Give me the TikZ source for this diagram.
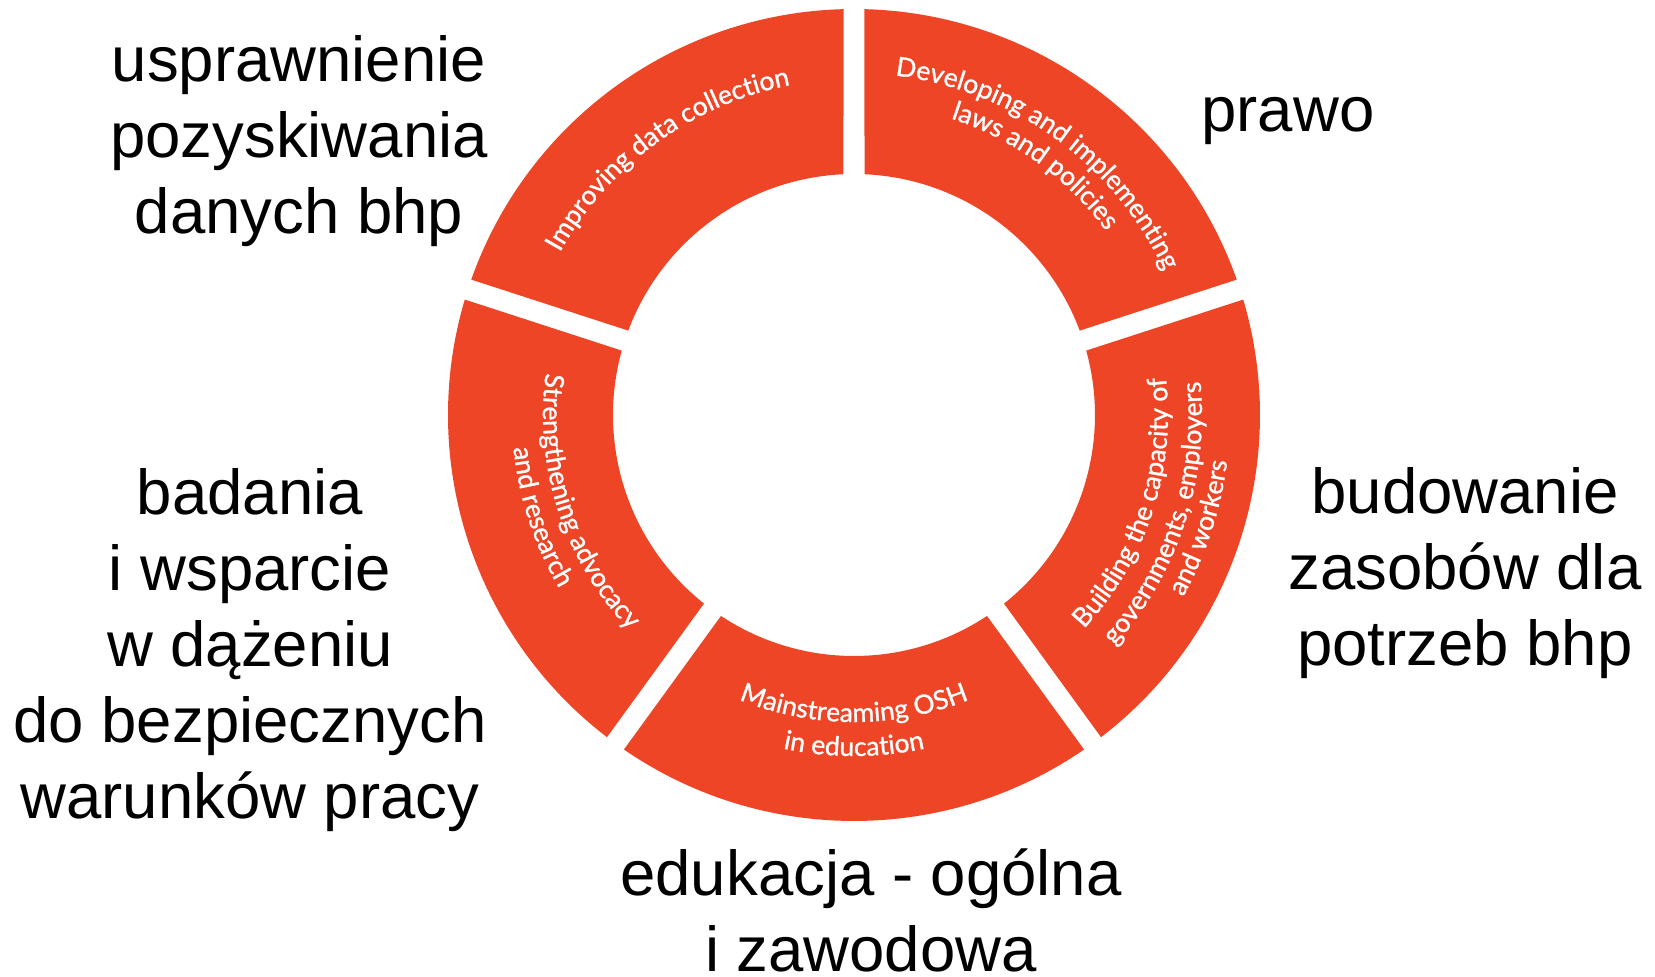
\documentclass[tikz,border=0pt]{standalone}
\usepackage{fontspec}
\setmainfont{Liberation Sans}
\newfontfamily\seglato[FakeBold=1]{Lato}
\usetikzlibrary{decorations.text}

\definecolor{oshred}{RGB}{238,69,39}
\newcommand{\segfont}{\seglato\fontsize{26.5}{30}\selectfont}

\tikzset{
  seg/.style={fill=oshred},
  segtext/.style={decorate, decoration={text along path, text align=center, text color=white}},
  plname/.style={align=center, inner sep=0pt, anchor=base, font=\fontsize{63.5}{76}\selectfont}
}

\begin{document}
\begin{tikzpicture}[x=1pt, y=1pt]
  \useasboundingbox (-854,-562) rectangle (801,415);
  % ring of five segments
  \foreach \a in {18,90,162,234,306}
    \fill[seg] (\a+1.48:406) arc[start angle=\a+1.48, end angle=\a+70.52, radius=406]
      -- (\a+69.5:241) arc[start angle=\a+69.5, end angle=\a+2.5, radius=241] -- cycle;

  % texts along the segments
  \path[segtext, decoration={text={|\segfont|Improving data collection}}]
    (160:336) arc[start angle=160, end angle=92, radius=336];
  \path[segtext, decoration={text={|\segfont|Developing and implementing}}]
    (88:342) arc[start angle=88, end angle=20, radius=342];
  \path[segtext, decoration={text={|\segfont|laws and policies}}]
    (88:312) arc[start angle=88, end angle=20, radius=312];
  \path[segtext, decoration={text={|\segfont|Building the capacity of}}]
    (-52:314) arc[start angle=-52, end angle=16, radius=314];
  \path[segtext, decoration={text={|\segfont|governments, employers}}]
    (-52:348) arc[start angle=-52, end angle=16, radius=348];
  \path[segtext, decoration={text={|\segfont|and workers}}]
    (-52:376) arc[start angle=-52, end angle=16, radius=376];
  \path[segtext, decoration={text={|\segfont|Mainstreaming OSH}}]
    (236:307) arc[start angle=236, end angle=304, radius=307];
  \path[segtext, decoration={text={|\segfont|in education}}]
    (236:341) arc[start angle=236, end angle=304, radius=341];
  \path[segtext, decoration={text={|\segfont|Strengthening advocacy}}]
    (164:311) arc[start angle=164, end angle=232, radius=311];
  \path[segtext, decoration={text={|\segfont|and research}}]
    (164:342) arc[start angle=164, end angle=232, radius=342];

  % polish names (base = last line)
  \node[plname] (data) at (-555,181) {usprawnienie\\pozyskiwania\\danych bhp};
  \node[plname] (law) at (434,283) {prawo};
  \node[plname] (capacity) at (611,-250) {budowanie\\zasobów dla\\potrzeb bhp};
  \node[plname] (research) at (-604,-403) {badania\\i wsparcie\\w dążeniu\\do bezpiecznych\\warunków pracy};
  \node[plname] (education) at (17,-556) {edukacja - ogólna\\i zawodowa};
\end{tikzpicture}
\end{document}
